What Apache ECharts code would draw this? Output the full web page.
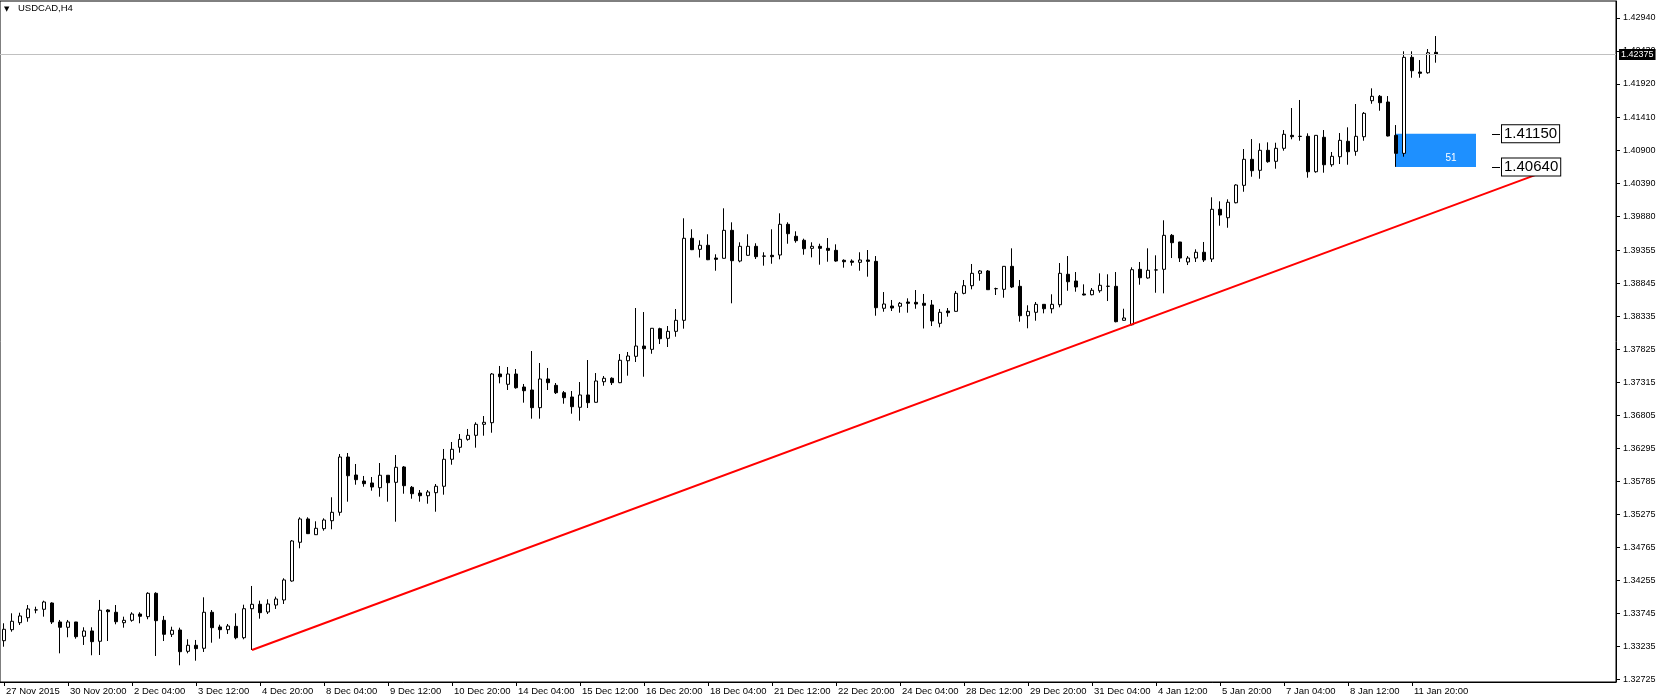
<!DOCTYPE html>
<html><head><meta charset="utf-8">
<script src="https://cdn.jsdelivr.net/npm/echarts@6/dist/echarts.min.js"></script>
<style>html,body{margin:0;padding:0;background:#fff}#c{width:1660px;height:700px}</style>
</head><body><div id="c"></div>
<script>
const chartTitle = 'USDCAD,H4';
const firstLabel = '27 Nov 2015';
// trading days shown (first bar hour of each day), H4 bars
const tradingDays = [['27 Nov',12],['30 Nov',0],['1 Dec',0],['2 Dec',0],['3 Dec',0],['4 Dec',0],
  ['7 Dec',0],['8 Dec',0],['9 Dec',0],['10 Dec',0],['11 Dec',0],
  ['14 Dec',0],['15 Dec',0],['16 Dec',0],['17 Dec',0],['18 Dec',0],
  ['21 Dec',0],['22 Dec',0],['23 Dec',0],['24 Dec',0],
  ['28 Dec',0],['29 Dec',0],['30 Dec',0],['31 Dec',0],
  ['4 Jan',0],['5 Jan',0],['6 Jan',0],['7 Jan',0],['8 Jan',0],
  ['11 Jan',0],['12 Jan',0]];
const emptySlots = 22; // chart shift space on the right

// [open, close, low, high]
const week1 = [
 [1.33322,1.33498,1.33229,1.33591],[1.33492,1.33622,1.33461,1.33745],[1.33600,1.33704,1.33564,1.33754]];
const week2 = [
 [1.33677,1.33812,1.33615,1.33873],[1.33796,1.33798,1.33745,1.33847],[1.33807,1.33920,1.33693,1.33940],
 [1.33904,1.33611,1.33580,1.33915],[1.33611,1.33529,1.33127,1.33642],[1.33529,1.33611,1.33375,1.33642],
 [1.33611,1.33384,1.33353,1.33612],[1.33390,1.33472,1.33256,1.33529],[1.33472,1.33307,1.33097,1.33529],
 [1.33313,1.33792,1.33101,1.33951],[1.33796,1.33770,1.33317,1.33807],[1.33761,1.33615,1.33575,1.33873],
 [1.33600,1.33637,1.33523,1.33693],[1.33637,1.33734,1.33615,1.33761],[1.33734,1.33699,1.33591,1.33761],
 [1.33693,1.34054,1.33653,1.34070],[1.34054,1.33631,1.33086,1.34070],[1.33637,1.33421,1.33317,1.33704],
 [1.33421,1.33483,1.33379,1.33538],[1.33487,1.33152,1.32942,1.33523],[1.33158,1.33251,1.33127,1.33344],
 [1.33251,1.33199,1.33013,1.33333],[1.33205,1.33761,1.33148,1.33992],[1.33761,1.33523,1.33291,1.33796],
 [1.33534,1.33492,1.33353,1.33569],[1.33492,1.33549,1.33426,1.33580],[1.33544,1.33368,1.33344,1.33745],
 [1.33368,1.33816,1.33344,1.33878],[1.33816,1.33884,1.33178,1.34167],[1.33884,1.33755,1.33662,1.33940]];
const week3 = [
 [1.33765,1.33889,1.33734,1.33961],[1.33873,1.33966,1.33812,1.34002],[1.33951,1.34260,1.33889,1.34286],
 [1.34244,1.34862,1.34233,1.34877],[1.34842,1.35202,1.34749,1.35228],[1.35202,1.34975,1.34970,1.35228],
 [1.34959,1.35058,1.34955,1.35166],[1.35052,1.35186,1.35021,1.35212],[1.35175,1.35305,1.35043,1.35537],
 [1.35305,1.36159,1.35253,1.36205],[1.36159,1.35870,1.35469,1.36221],[1.35881,1.35809,1.35731,1.36051],
 [1.35788,1.35747,1.35700,1.35866],[1.35758,1.35696,1.35639,1.35850],[1.35685,1.35877,1.35546,1.36066],
 [1.35877,1.35762,1.35469,1.35880],[1.35768,1.36000,1.35160,1.36190],[1.36005,1.35716,1.35592,1.36020],
 [1.35691,1.35592,1.35515,1.35711],[1.35603,1.35561,1.35469,1.35649],[1.35561,1.35619,1.35438,1.35649],
 [1.35608,1.35707,1.35314,1.35742],[1.35707,1.36124,1.35577,1.36283],[1.36124,1.36278,1.36040,1.36391],
 [1.36309,1.36432,1.36226,1.36514],[1.36432,1.36494,1.36411,1.36592],[1.36494,1.36664,1.36303,1.36695],
 [1.36664,1.36695,1.36488,1.36792],[1.36689,1.37441,1.36534,1.37456],[1.37441,1.37399,1.37297,1.37565]];
const week4 = [
 [1.37282,1.37441,1.37194,1.37549],[1.37441,1.37229,1.37214,1.37518],[1.37240,1.37183,1.36998,1.37287],
 [1.37194,1.36921,1.36751,1.37796],[1.36921,1.37364,1.36751,1.37611],[1.37364,1.37307,1.37194,1.37534],
 [1.37266,1.37152,1.37132,1.37302],[1.37152,1.37075,1.36982,1.37178],[1.37086,1.36936,1.36828,1.37178],
 [1.36927,1.37117,1.36720,1.37317],[1.37117,1.36998,1.36916,1.37657],[1.37004,1.37333,1.37000,1.37456],
 [1.37322,1.37375,1.37260,1.37410],[1.37375,1.37307,1.37271,1.37390],[1.37307,1.37653,1.37300,1.37750],
 [1.37646,1.37719,1.37415,1.37781],[1.37714,1.37873,1.37626,1.38460],[1.37873,1.37832,1.37399,1.38398],
 [1.37822,1.38147,1.37754,1.38150],[1.38141,1.37986,1.37904,1.38156],[1.37992,1.38100,1.37858,1.38182],
 [1.38100,1.38270,1.38017,1.38445],[1.38270,1.39537,1.38141,1.39846],[1.39537,1.39361,1.39355,1.39676],
 [1.39367,1.39429,1.39240,1.39506],[1.39429,1.39206,1.39200,1.39599],[1.39232,1.39212,1.39036,1.39290],
 [1.39228,1.39660,1.39225,1.40000],[1.39660,1.39191,1.38533,1.39784],[1.39186,1.39413,1.39166,1.39475]];
const week5 = [
 [1.39274,1.39413,1.39270,1.39599],[1.39413,1.39253,1.39217,1.39460],[1.39263,1.39261,1.39114,1.39321],
 [1.39274,1.39253,1.39144,1.39676],[1.39279,1.39753,1.39212,1.39923],[1.39753,1.39608,1.39453,1.39784],
 [1.39568,1.39500,1.39469,1.39645],[1.39506,1.39376,1.39283,1.39531],[1.39382,1.39413,1.39243,1.39475],
 [1.39413,1.39382,1.39129,1.39453],[1.39382,1.39351,1.39175,1.39541],[1.39351,1.39186,1.39175,1.39444],
 [1.39197,1.39175,1.39083,1.39212],[1.39186,1.39166,1.39114,1.39212],[1.39166,1.39202,1.39036,1.39321],
 [1.39202,1.39181,1.38944,1.39356],[1.39181,1.38465,1.38341,1.39263],[1.38456,1.38522,1.38403,1.38707],
 [1.38491,1.38460,1.38414,1.38584],[1.38487,1.38533,1.38388,1.38553],[1.38553,1.38533,1.38388,1.38610],
 [1.38548,1.38522,1.38449,1.38738],[1.38533,1.38502,1.38144,1.38677],[1.38507,1.38260,1.38182,1.38584]];
const week6 = [
 [1.38224,1.38394,1.38162,1.38445],[1.38414,1.38388,1.38326,1.38460],[1.38409,1.38687,1.38405,1.38723],
 [1.38687,1.38805,1.38672,1.38893],[1.38805,1.38996,1.38749,1.39140],[1.38996,1.39032,1.38882,1.39047],
 [1.39032,1.38743,1.38740,1.39047],[1.38758,1.38760,1.38661,1.38774],[1.38749,1.39104,1.38619,1.39107],
 [1.39104,1.38785,1.38769,1.39382],[1.38795,1.38341,1.38249,1.38893],[1.38341,1.38409,1.38147,1.38502],
 [1.38394,1.38517,1.38264,1.38553],[1.38517,1.38449,1.38378,1.38520],[1.38449,1.38517,1.38378,1.38672],
 [1.38511,1.38996,1.38471,1.39155],[1.38981,1.38866,1.38727,1.39263],[1.38877,1.38785,1.38712,1.39016],
 [1.38677,1.38661,1.38656,1.38826],[1.38666,1.38734,1.38656,1.38769],[1.38727,1.38811,1.38696,1.38996],
 [1.38795,1.38797,1.38568,1.38981],[1.38795,1.38249,1.38239,1.39016],[1.38270,1.38306,1.38265,1.38449]];
const week7 = [
 [1.38202,1.39052,1.38193,1.39089],[1.39058,1.38928,1.38820,1.39171],[1.38924,1.39043,1.38913,1.39382],
 [1.39047,1.39049,1.38696,1.39274],[1.39058,1.39583,1.38687,1.39815],[1.39583,1.39469,1.39232,1.39603],
 [1.39480,1.39232,1.39171,1.39482],[1.39171,1.39232,1.39124,1.39263],[1.39232,1.39321,1.39171,1.39367],
 [1.39321,1.39202,1.39171,1.39480],[1.39217,1.39985,1.39171,1.40170],[1.39985,1.39897,1.39731,1.40108],
 [1.39855,1.40093,1.39700,1.40139],[1.40086,1.40360,1.40077,1.40371],[1.40355,1.40757,1.40256,1.40916],
 [1.40757,1.40581,1.40488,1.41070],[1.40587,1.40896,1.40457,1.41004],[1.40896,1.40720,1.40704,1.41019],
 [1.40726,1.40927,1.40612,1.41013],[1.40927,1.41143,1.40890,1.41209],[1.41127,1.41106,1.41066,1.41549],
 [1.41112,1.41110,1.41044,1.41673],[1.41112,1.40565,1.40473,1.41158],[1.40565,1.41127,1.40550,1.41130],
 [1.41097,1.40673,1.40550,1.41209],[1.40673,1.40803,1.40642,1.40870],[1.40797,1.41050,1.40684,1.41163],
 [1.41035,1.40874,1.40673,1.41251],[1.40880,1.41112,1.40812,1.41611],[1.41106,1.41467,1.41044,1.41487]];
const week8 = [
 [1.41662,1.41730,1.41615,1.41853],[1.41730,1.41631,1.41507,1.41750],[1.41642,1.41117,1.41110,1.41734],
 [1.41127,1.40849,1.40640,1.41286],[1.40849,1.42332,1.40797,1.42425],[1.42332,1.42125,1.42017,1.42425],
 [1.42105,1.42085,1.42017,1.42290],[1.42094,1.42403,1.42079,1.42460],[1.42409,1.42375,1.42249,1.42661]];

const yTickLabels = ['1.32725','1.33235','1.33745','1.34255','1.34765','1.35275','1.35785','1.36295',
  '1.36805','1.37315','1.37825','1.38335','1.38845','1.39355','1.39880','1.40390','1.40900','1.41410',
  '1.41920','1.42430','1.42940'];
const yMin = 1.32684, yMax = 1.43202;
const bidPrice = 1.42375;
const trendFrom = [31, 1.33178], trendTo = [194, 1.40633];
const boxFromBar = 174, boxToBar = 184, boxHigh = 1.41150, boxLow = 1.40640;
const priceLabelBars = [186, 187];

const bars = [].concat(week1, week2, week3, week4, week5, week6, week7, week8);
const categories = [];
const pad = h => (h < 10 ? '0' : '') + h + ':00';
tradingDays.forEach(([d, start]) => { for (let h = start; h <= 20; h += 4) categories.push(d + ' ' + pad(h)); });
categories.length = bars.length;
for (let i = 0; i < emptySlots; i++) categories.push('+' + (i + 1));
const yTicks = yTickLabels.map(Number);
const showIdx = (i) => i % 8 === 0 && i < bars.length;
const FONT = 'Liberation Sans';

const chart = echarts.init(document.getElementById('c'), null, {renderer: 'canvas'});
const priceBox = {
  show: true, position: 'end', distance: 2, color: '#000', backgroundColor: '#fff',
  borderColor: '#000', borderWidth: 1, padding: [1, 2, 0, 2], fontSize: 15, lineHeight: 16, fontFamily: FONT
};
chart.setOption({
  animation: false,
  backgroundColor: '#fff',
  textStyle: {fontFamily: FONT},
  title: [
    {text: '▼', left: 4, top: 6, padding: 0, textStyle: {fontSize: 7, fontWeight: 'normal', color: '#000', fontFamily: 'DejaVu Sans'}},
    {text: chartTitle, left: 18, top: 3.5, padding: 0, textStyle: {fontSize: 9.5, fontWeight: 'normal', color: '#000', fontFamily: FONT}}
  ],
  grid: {left: 0, top: 1, width: 8 * categories.length, bottom: 18, show: true, borderColor: '#000', borderWidth: 1, backgroundColor: 'transparent'},
  xAxis: {
    type: 'category', data: categories, boundaryGap: true,
    axisLine: {show: true, lineStyle: {color: '#000', width: 1}},
    axisTick: {show: true, length: 4, alignWithLabel: true, interval: showIdx, lineStyle: {color: '#000'}},
    axisLabel: {interval: showIdx, align: 'left', margin: 4, fontSize: 9.5, color: '#000', padding: [0, 0, 0, 2],
      formatter: (v, i) => i === 0 ? firstLabel : v},
    splitLine: {show: false}
  },
  yAxis: {
    type: 'value', position: 'right', min: yMin, max: yMax,
    splitLine: {show: false},
    axisLine: {show: true, lineStyle: {color: '#000', width: 1}},
    axisTick: {show: true, length: 4, customValues: yTicks, lineStyle: {color: '#000'}},
    axisLabel: {customValues: yTicks, margin: 7, fontSize: 9, color: '#000', formatter: v => v.toFixed(5)}
  },
  series: [{
    type: 'candlestick',
    data: bars,
    barWidth: 4,
    silent: true,
    itemStyle: {color: '#fff', color0: '#000', borderColor: '#000', borderColor0: '#000', borderWidth: 1},
    markArea: {
      silent: true,
      itemStyle: {color: '#1e90ff', opacity: 1},
      label: {show: true, position: [55, 24], align: 'center', verticalAlign: 'middle', color: '#fff', fontSize: 10, fontFamily: FONT},
      data: [[{xAxis: boxFromBar, yAxis: boxHigh, name: String(Math.round((boxHigh - boxLow) * 10000))}, {xAxis: boxToBar, yAxis: boxLow}]]
    },
    markLine: {
      silent: true, symbol: ['none', 'none'], precision: 5,
      data: [
        {yAxis: bidPrice, lineStyle: {color: '#c0c0c0', width: 1, type: 'solid'},
         label: {show: true, position: 'end', distance: 3, formatter: bidPrice.toFixed(5), color: '#fff', backgroundColor: '#000', padding: [1, 2, 0, 2], fontSize: 9, lineHeight: 10, fontFamily: FONT}},
        [{coord: [priceLabelBars[0], boxHigh], lineStyle: {color: '#000', width: 1, type: 'solid'}, label: Object.assign({formatter: boxHigh.toFixed(5)}, priceBox)},
         {coord: [priceLabelBars[1], boxHigh]}],
        [{coord: [priceLabelBars[0], boxLow], lineStyle: {color: '#000', width: 1, type: 'solid'}, label: Object.assign({formatter: boxLow.toFixed(5)}, priceBox)},
         {coord: [priceLabelBars[1], boxLow]}],
        [{coord: [boxFromBar + 1, boxLow], lineStyle: {color: '#fff', width: 1, type: [2, 2]}, label: {show: false}},
         {coord: [boxToBar - 2, boxLow]}],
        [{coord: trendFrom, lineStyle: {color: '#ff0000', width: 2, type: 'solid'}, label: {show: false}},
         {coord: trendTo}]
      ]
    }
  }]
});
</script></body></html>
